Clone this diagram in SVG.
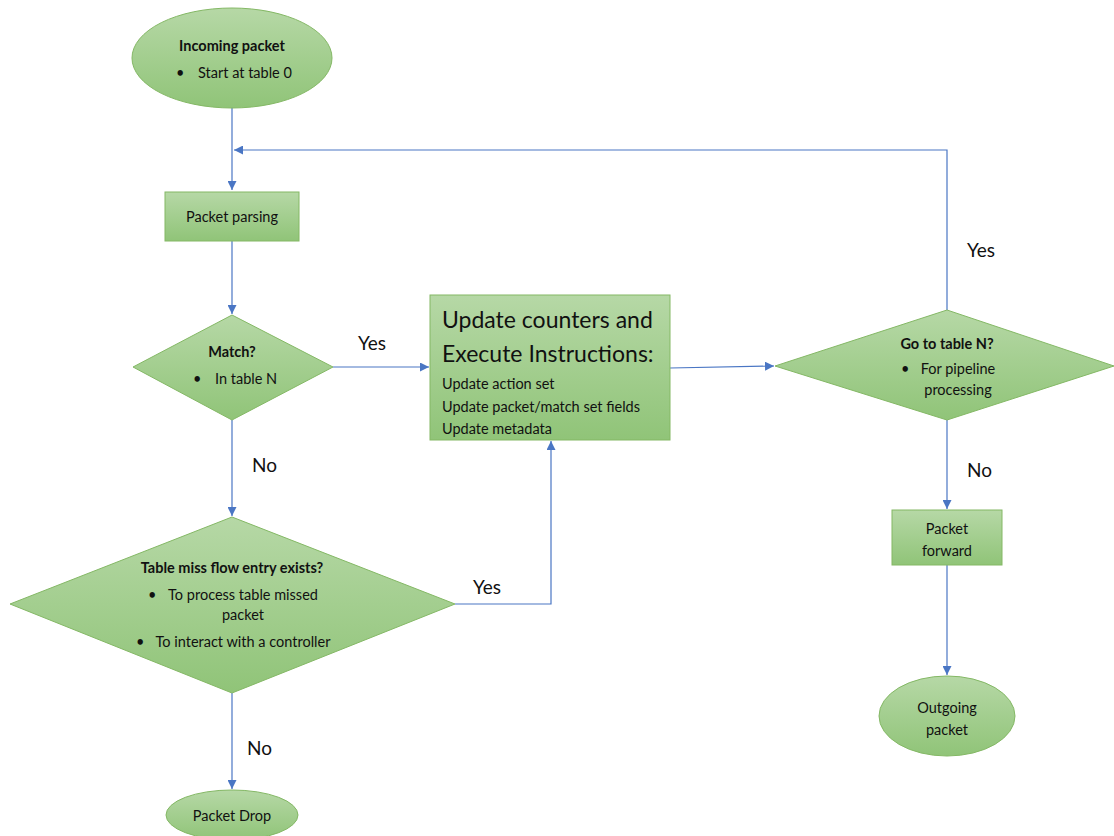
<svg xmlns="http://www.w3.org/2000/svg" width="1114" height="836" viewBox="0 0 1114 836">
<style>
.n{fill:url(#g);stroke:#84b865;stroke-width:1}
.t{font-family:Lato,"Noto Sans",sans-serif;font-size:14.5px;fill:#111;text-anchor:middle}
.b{font-weight:bold}
.l{font-family:Lato,"Noto Sans",sans-serif;font-size:19px;fill:#111}
.c{fill:none;stroke:#4a76c4;stroke-width:1.2}
</style>
<defs>
<linearGradient id="g" x1="0" y1="0" x2="0" y2="1">
<stop offset="0" stop-color="#b6d8a6"/>
<stop offset="1" stop-color="#90c478"/>
</linearGradient>
<marker id="a" viewBox="0 0 10 10" refX="10" refY="5" markerWidth="9" markerHeight="9" markerUnits="userSpaceOnUse" orient="auto">
<path d="M0,0L10,5L0,10z" fill="#4a76c4"/>
</marker>
</defs>
<g id="connectors">
<path class="c" d="M232,108V190" marker-end="url(#a)"/>
<path class="c" d="M947,310V150H234" marker-end="url(#a)"/>
<path class="c" d="M232,241V314" marker-end="url(#a)"/>
<path class="c" d="M333,367H429" marker-end="url(#a)"/>
<path class="c" d="M670,368L774,366" marker-end="url(#a)"/>
<path class="c" d="M947,420V509" marker-end="url(#a)"/>
<path class="c" d="M947,565V675" marker-end="url(#a)"/>
<path class="c" d="M232,420V516" marker-end="url(#a)"/>
<path class="c" d="M455,604H551V441" marker-end="url(#a)"/>
<path class="c" d="M232,693V789" marker-end="url(#a)"/>
<text class="l" x="358" y="350">Yes</text>
<text class="l" x="967" y="257">Yes</text>
<text class="l" x="967" y="477">No</text>
<text class="l" x="252" y="472">No</text>
<text class="l" x="473" y="594">Yes</text>
<text class="l" x="247" y="755">No</text>
</g>
<g id="incoming">
<ellipse class="n" cx="232" cy="58" rx="100" ry="50"/>
<text class="t b" x="232" y="51">Incoming packet</text>
<text class="t" x="176" y="78" style="text-anchor:start">•</text>
<text class="t" x="198" y="78" style="text-anchor:start">Start at table 0</text>
</g>
<g id="parsing">
<rect class="n" x="165" y="192" width="134" height="49"/>
<text class="t" x="232" y="222">Packet parsing</text>
</g>
<g id="match">
<polygon class="n" points="232,315 333,367 232,420 133,367"/>
<text class="t b" x="232" y="357">Match?</text>
<text class="t" x="193" y="384" style="text-anchor:start">•</text>
<text class="t" x="215" y="384" style="text-anchor:start">In table N</text>
</g>
<g id="update">
<rect class="n" x="430" y="295" width="240" height="145"/>
<text class="t" x="442" y="328" style="text-anchor:start;font-size:23px">Update counters and</text>
<text class="t" x="442" y="362" style="text-anchor:start;font-size:23px">Execute Instructions:</text>
<text class="t" x="442" y="389" style="text-anchor:start">Update action set</text>
<text class="t" x="442" y="412" style="text-anchor:start">Update packet/match set fields</text>
<text class="t" x="442" y="434" style="text-anchor:start">Update metadata</text>
</g>
<g id="gototable">
<polygon class="n" points="947,310 1114,366 947,420 775,366"/>
<text class="t b" x="947" y="349">Go to table N?</text>
<text class="t" x="901" y="374" style="text-anchor:start">•</text>
<text class="t" x="958" y="374">For pipeline</text>
<text class="t" x="958" y="395">processing</text>
</g>
<g id="tablemiss">
<polygon class="n" points="232,517 455,604 232,693 10,604"/>
<text class="t b" x="232" y="573">Table miss flow entry exists?</text>
<text class="t" x="148" y="600" style="text-anchor:start">•</text>
<text class="t" x="243" y="600">To process table missed</text>
<text class="t" x="243" y="620">packet</text>
<text class="t" x="136" y="647" style="text-anchor:start">•</text>
<text class="t" x="243" y="647">To interact with a controller</text>
</g>
<g id="forward">
<rect class="n" x="892" y="510" width="110" height="55"/>
<text class="t" x="947" y="534">Packet</text>
<text class="t" x="947" y="556">forward</text>
</g>
<g id="outgoing">
<ellipse class="n" cx="947" cy="716" rx="68" ry="40"/>
<text class="t" x="947" y="713">Outgoing</text>
<text class="t" x="947" y="735">packet</text>
</g>
<g id="drop">
<ellipse class="n" cx="232" cy="815" rx="66" ry="25"/>
<text class="t" x="232" y="821">Packet Drop</text>
</g>
</svg>
